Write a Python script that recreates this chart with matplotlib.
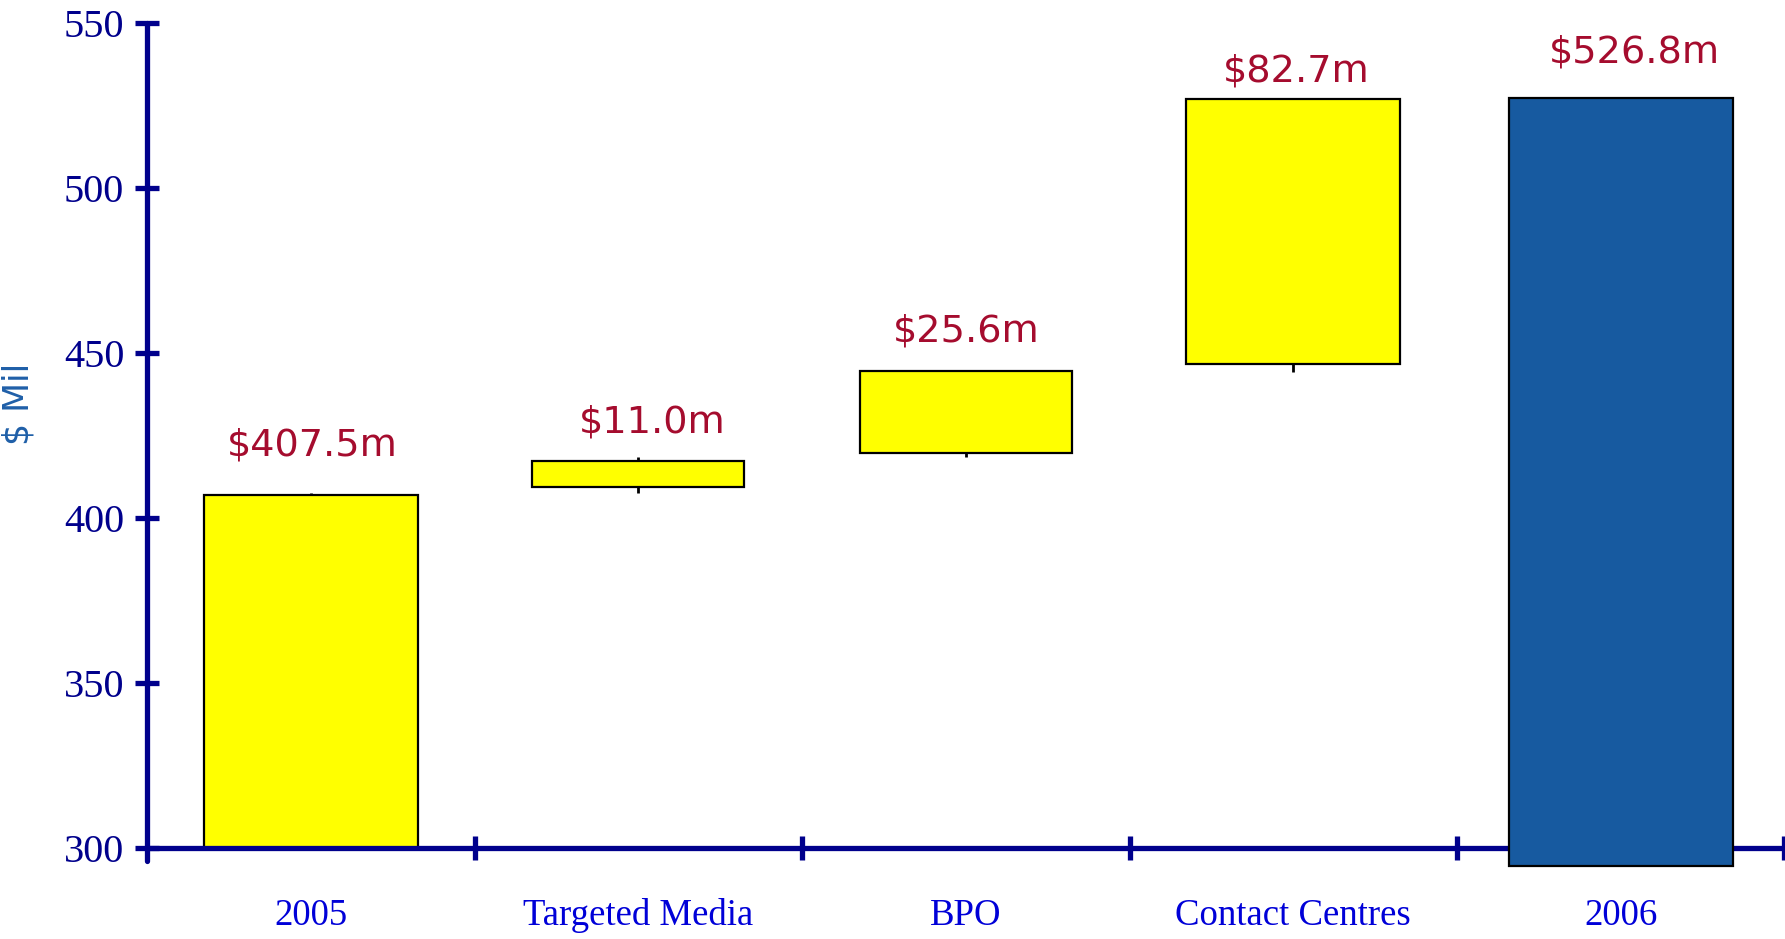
import matplotlib
matplotlib.use("Agg")
import matplotlib.pyplot as plt
from matplotlib.ticker import FixedLocator, NullFormatter, FixedFormatter

# Revenue bridge, 2005 -> 2006 ($ millions)
categories = ["2005", "Targeted Media", "BPO", "Contact Centres", "2006"]
box_bottom = [300.0, 409.5, 419.7, 446.5, 294.5]
box_top = [407.0, 417.3, 444.6, 526.9, 527.2]
wick_low = [300.0, 407.5, 418.5, 444.1, 294.5]
wick_high = [407.5, 418.5, 444.6, 527.3, 527.2]
value_labels = ["$407.5m", "$11.0m", "$25.6m", "$82.7m", "$526.8m"]
y_ticks = [300, 350, 400, 450, 500, 550]

# styling
fill_colors = ["#FFFF00", "#FFFF00", "#FFFF00", "#FFFF00", "#175AA0"]
bar_widths = [0.655, 0.648, 0.648, 0.652, 0.685]
label_lift_pt = [34, 25, 28, 19, 33]
label_shift_pt = [1, 10, 0, 2, 10]
navy = "#00008C"

fig = plt.figure(figsize=(17.85, 9.39), dpi=100)
ax = fig.add_axes([0.0824, 0.0969, 0.9173, 0.8788])
ax.set_xlim(-0.5, len(categories) - 0.5)
ax.set_ylim(300, 550)

x = list(range(len(categories)))

# high-low wicks behind the boxes
ax.vlines(x, wick_low, wick_high, colors="black", linewidth=2.0, zorder=1.9, clip_on=False)

# open-close boxes
for i in x:
    z = 3.5 if i == len(categories) - 1 else 2.0
    ax.bar(i, box_top[i] - box_bottom[i], bottom=box_bottom[i], width=bar_widths[i],
           color=fill_colors[i], edgecolor="black", linewidth=1.6, zorder=z, clip_on=False)

# value labels
for i in x:
    ax.annotate(value_labels[i], xy=(i, wick_high[i]),
                xytext=(label_shift_pt[i], label_lift_pt[i]), textcoords="offset points",
                ha="center", va="center", fontsize=27.5, color="#A50C2E",
                family="DejaVu Sans", annotation_clip=False)

# axes styling
for side in ("top", "right"):
    ax.spines[side].set_visible(False)
ax.spines["left"].set_color(navy)
ax.spines["left"].set_linewidth(3.8)
ax.spines["left"].set_bounds(296, 550)
ax.spines["bottom"].set_color(navy)
ax.spines["bottom"].set_linewidth(3.8)
ax.spines["bottom"].set_capstyle("round")
ax.spines["left"].set_capstyle("round")

ax.yaxis.set_major_locator(FixedLocator(y_ticks))
ax.tick_params(axis="y", which="major", direction="inout", length=17, width=3.8,
               color=navy, labelcolor=navy, labelsize=29, pad=8)
for lab in ax.get_yticklabels():
    lab.set_family("Liberation Serif")

# x ticks at category boundaries, labels at category centres
ax.xaxis.set_major_locator(FixedLocator([i + 0.5 for i in x]))
ax.xaxis.set_major_formatter(NullFormatter())
ax.xaxis.set_minor_locator(FixedLocator(x))
ax.xaxis.set_minor_formatter(FixedFormatter(categories))
ax.tick_params(axis="x", which="major", direction="inout", length=17, width=3.8, color=navy)
ax.tick_params(axis="x", which="minor", length=0, pad=36, labelsize=26.5, labelcolor="#0000D8")
for lab in ax.xaxis.get_minorticklabels():
    lab.set_family("Liberation Serif")
for t in ax.xaxis.get_major_ticks() + ax.yaxis.get_major_ticks():
    t.tick1line.set_clip_on(False)

fig.text(19 / 1785, 1 - 404 / 939, "$ Mil", rotation=90, ha="center", va="center",
         fontsize=25, color="#1F5FA8", family="DejaVu Sans")

fig.savefig("out.png", dpi=100)
